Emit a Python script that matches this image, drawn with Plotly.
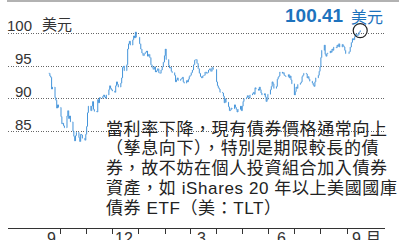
import plotly.graph_objects as go
import pandas as pd

# Daily closing prices (US$), month by month
sep23 = [93.9, 93.5, 93.3, 91.5, 91.8, 90.2, 89.8, 88.6, 89.1, 88.7]
oct23 = [87.3, 86.2, 86.3, 85.9, 85.6, 87.4, 88.2, 87.0, 87.4, 86.5, 85.1,
         84.3, 83.6, 84.4, 84.9, 84.1, 83.5, 84.6, 84.5, 84.0, 83.7, 84.6]
nov23 = [85.8, 87.9, 88.9, 88.2, 88.9, 89.6, 88.4, 88.1, 88.0, 89.9, 89.4,
         90.2, 90.1, 90.4, 90.6, 90.3, 90.1, 90.6, 91.4, 92.0, 91.6, 91.4]
dec23 = [91.2, 91.0, 92.0, 92.6, 92.2, 91.8, 92.4, 93.2, 94.8, 95.0, 94.3,
         95.2, 97.6, 98.4, 98.8, 98.2, 99.0, 99.6, 99.3, 100.2, 99.4]
jan24 = [98.4, 97.6, 97.0, 96.6, 96.9, 97.1, 97.3, 96.5, 96.8, 96.3, 95.2,
         94.8, 94.5, 94.9, 94.1, 94.3, 94.6, 94.0, 93.9, 94.4, 94.9, 95.6, 96.6]
feb24 = [97.6, 96.0, 95.1, 94.7, 94.8, 94.2, 94.0, 93.6, 92.6, 92.9, 93.2,
         92.8, 93.0, 93.1, 93.3, 92.6, 92.4, 92.8, 92.6, 93.0, 93.4]
mar24 = [93.6, 94.0, 94.4, 95.2, 95.9, 96.0, 95.4, 94.6, 93.9, 93.4, 93.2,
         93.5, 93.6, 94.1, 93.9, 94.0, 94.4, 94.6, 94.2, 94.8, 94.5]
apr24 = [92.6, 92.0, 91.7, 91.5, 91.0, 90.9, 90.4, 89.4, 90.0, 89.5, 88.8,
         88.2, 88.3, 88.6, 88.5, 89.1, 88.7, 88.4, 88.0, 88.4, 88.9, 88.2]
may24 = [88.9, 89.6, 90.0, 90.2, 90.5, 90.3, 90.1, 90.6, 90.8, 91.0, 90.7,
         91.7, 91.5, 91.3, 91.8, 91.4, 90.9, 90.6, 90.8, 90.3, 89.6, 89.9, 90.7]
jun24 = [91.4, 91.9, 92.6, 92.3, 91.6, 91.9, 93.0, 93.3, 93.5, 94.1, 93.9,
         94.0, 93.6, 93.5, 93.4, 93.7, 93.2, 93.5, 92.9, 92.3]
jul24 = [90.6, 91.1, 91.8, 91.6, 92.2, 92.4, 92.6, 93.4, 93.6, 93.9, 93.8,
         93.2, 93.4, 93.0, 92.7, 92.4, 92.1, 91.9, 92.6, 93.2, 93.6, 94.2, 94.9]
aug24 = [96.3, 97.4, 98.2, 96.8, 96.5, 96.9, 97.0, 97.3, 97.1, 97.6, 97.4,
         97.9, 97.8, 98.2, 98.0, 98.4, 97.9, 98.3, 98.1, 97.9, 97.4, 96.9]
sep24 = [97.2, 97.9, 98.6, 99.2, 99.0, 99.5, 99.9, 99.6, 99.8, 100.2, 100.41]

month_spans = [
    (sep23, "2023-09-18", "2023-09-29"), (oct23, "2023-10-02", "2023-10-31"),
    (nov23, "2023-11-01", "2023-11-30"), (dec23, "2023-12-01", "2023-12-29"),
    (jan24, "2024-01-02", "2024-01-31"), (feb24, "2024-02-01", "2024-02-29"),
    (mar24, "2024-03-01", "2024-03-28"), (apr24, "2024-04-01", "2024-04-30"),
    (may24, "2024-05-01", "2024-05-31"), (jun24, "2024-06-03", "2024-06-28"),
    (jul24, "2024-07-01", "2024-07-31"), (aug24, "2024-08-01", "2024-08-30"),
    (sep24, "2024-09-03", "2024-09-16"),
]

grid_levels = [100, 95, 90, 85]
grid_labels = ["100", "95", "90", "85"]
month_ticks = ["2023-10-01", "2023-11-01", "2023-12-01", "2024-01-01", "2024-02-01",
               "2024-03-01", "2024-04-01", "2024-05-01", "2024-06-01", "2024-07-01",
               "2024-08-01", "2024-09-01"]
month_labels = ["9", "12", "3", "6", "9 月"]
month_label_px = [51, 124, 201, 281, 366]
last_price = "100.41"
note_lines = [
    "當利率下降，現有債券價格通常向上",
    "（孳息向下），特別是期限較長的債",
    "券，故不妨在個人投資組合加入債券",
    "資產，如 iShares 20 年以上美國國庫",
    "債券 ETF（美：TLT）",
]

dates, closes = [], []
for vals, a, b in month_spans:
    d = pd.bdate_range(a, b)
    if len(d) != len(vals):
        d = pd.date_range(a, b, periods=len(vals))
    dates.extend(list(d))
    closes.extend(vals)
opens = [closes[0]] + closes[:-1]
highs = [max(o, c) for o, c in zip(opens, closes)]
lows = [min(o, c) for o, c in zip(opens, closes)]

W, H = 400, 240
L, R, T, B = 8, 15, 2, 12
PW, PH = W - L - R, H - T - B
px = lambda x: (x - L) / PW
py = lambda y: (H - B - y) / PH

BLUE = "#4494da"
fig = go.Figure(go.Ohlc(
    x=dates, open=opens, high=highs, low=lows, close=closes,
    increasing_line_color=BLUE, decreasing_line_color=BLUE,
    line_width=1, hoverinfo="skip",
))

FONT = "Liberation Sans, Arial, Noto Sans CJK TC"
CJK = "Noto Sans CJK TC, Noto Sans CJK SC"
MIX = "Liberation Sans, Arial, Noto Sans CJK TC, Noto Sans CJK SC"
ann = []
for v, t in zip(grid_levels, grid_labels):
    ann.append(dict(xref="paper", yref="y", x=px(34), y=v, text=t, showarrow=False,
                    xanchor="right", yanchor="bottom", yshift=-3,
                    font=dict(family=FONT, size=15, color="#333")))
ann.append(dict(xref="paper", yref="y", x=px(40), y=100, text="美元", showarrow=False,
                xanchor="left", yanchor="bottom", yshift=-3,
                font=dict(family=CJK, size=15, color="#333")))
ann.append(dict(xref="paper", yref="paper", x=px(346), y=py(15.5), text="<b>" + last_price + "</b>",
                showarrow=False, xanchor="right", yanchor="middle",
                font=dict(family=FONT, size=19, color="#1d72bd")))
ann.append(dict(xref="paper", yref="paper", x=px(349), y=py(15.5), text="美元",
                showarrow=False, xanchor="left", yanchor="middle",
                font=dict(family=CJK, size=16, color="#1d72bd")))
line_y = [129, 148.75, 168.5, 188.25, 208]
for t, yy in zip(note_lines, line_y):
    ann.append(dict(xref="paper", yref="paper", x=px(104), y=py(yy),
                    text='<span style="letter-spacing:0.6px">' + t + '</span>',
                    showarrow=False, xanchor="left", yanchor="middle",
                    font=dict(family=MIX, size=17, color="#222")))
for t, xx in zip(month_labels, month_label_px):
    ann.append(dict(xref="paper", yref="paper", x=px(xx), y=py(228), text=t,
                    showarrow=False, xanchor="center", yanchor="top",
                    font=dict(family=MIX, size=16, color="#333")))

shapes = [
    dict(type="line", xref="paper", yref="paper", x0=px(7), x1=px(399), y0=py(1), y1=py(1),
         line=dict(color="#999", width=1.5)),
    dict(type="circle", xref="x", yref="y", xsizemode="pixel", ysizemode="pixel",
         xanchor=dates[-1], yanchor=closes[-1], x0=-7, x1=7, y0=-7, y1=7,
         line=dict(color="#222", width=1.2)),
]

fig.update_layout(
    width=W, height=H, margin=dict(l=L, r=R, t=T, b=B),
    paper_bgcolor="white", plot_bgcolor="white", showlegend=False,
    annotations=ann, shapes=shapes,
    xaxis=dict(type="date", range=["2023-08-01", "2024-10-15"], rangeslider_visible=False,
               tickvals=month_ticks, ticktext=[""] * len(month_ticks), ticks="outside",
               ticklen=5, tickcolor="#333", showline=True, linecolor="#333", linewidth=1,
               showgrid=False, zeroline=False, fixedrange=True),
    yaxis=dict(range=[70.32, 104.77], tickvals=grid_levels, showticklabels=False,
               showgrid=True, gridcolor="#666", griddash="1px,1.5px", gridwidth=1,
               zeroline=False, showline=False, ticks=""),
)
fig.write_html("out.html")
